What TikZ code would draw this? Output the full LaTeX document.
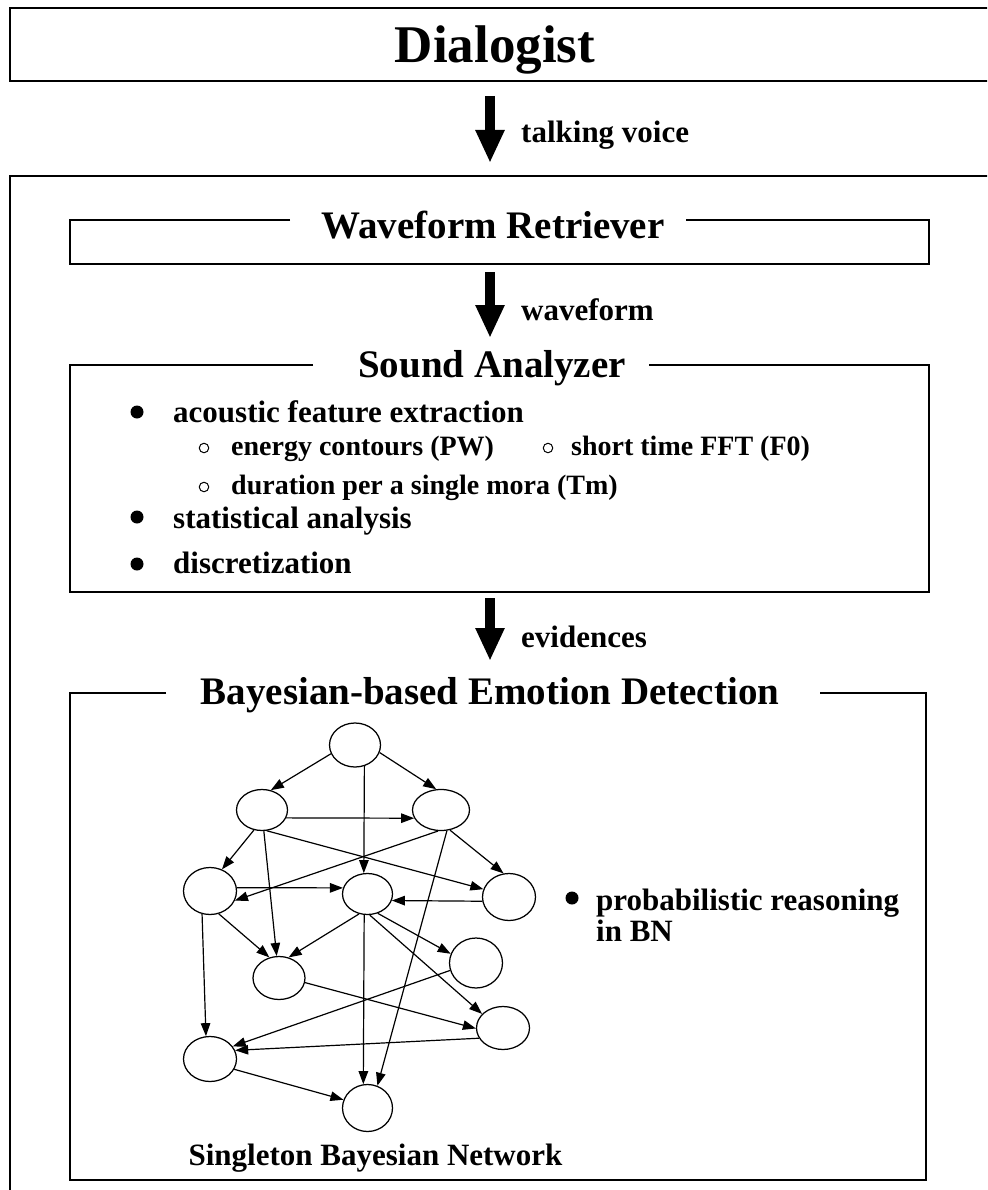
\documentclass[tikz,border=0pt]{standalone}
\usepackage{fontspec}
\setmainfont{Liberation Serif}
\usetikzlibrary{shapes.geometric,arrows.meta}

\begin{document}
\begin{tikzpicture}[x=1pt,y=-1pt,
  boxline/.style={line width=1.5pt},
  bigarrow/.style={line width=9.5pt,-{Triangle[length=33pt,width=27pt]}},
  headline/.style={font=\fontsize{53}{53}\selectfont\bfseries,inner sep=0pt,anchor=base},
  boxtitle/.style={font=\fontsize{39}{39}\selectfont\bfseries,inner sep=0pt,anchor=base},
  txt/.style={font=\fontsize{31}{31}\selectfont\bfseries,inner sep=0pt,anchor=base west},
  subtxt/.style={font=\fontsize{28}{28}\selectfont\bfseries,inner sep=0pt,anchor=base west},
  bul/.style={circle,fill=black,inner sep=0pt,minimum size=13pt},
  subbul/.style={circle,draw,line width=1pt,inner sep=0pt,minimum size=9.5pt},
  bn/.style={ellipse,draw,line width=1.25pt,inner sep=0pt},
  edge/.style={line width=1.2pt,-{Triangle[length=13pt,width=9.5pt]}}]

\useasboundingbox (0,0) rectangle (987,1190);
\clip (0,0) rectangle (987,1190);

% ---- Dialogist ----
\draw[boxline] (1000,8) -- (10,8) -- (10,81) -- (1000,81);
\node[headline] (dialogist) at (495,63) {Dialogist};

\coordinate (a1s) at (490,96);
\coordinate (a1e) at (490,163);
\draw[bigarrow] (a1s) -- (a1e);
\node[txt] (talk) at (521,143) {talking voice};

% ---- outer system frame ----
\draw[boxline] (1000,176) -- (10,176) -- (10,1200);

% ---- Waveform Retriever ----
\draw[boxline] (290,220) -- (70,220) -- (70,264) -- (929,264) -- (929,220) -- (686,220);
\node[boxtitle] (wr) at (493,238) {Waveform Retriever};

\coordinate (a2s) at (490,272);
\coordinate (a2e) at (490,338);
\draw[bigarrow] (a2s) -- (a2e);
\node[txt] (wave) at (521,320) {waveform};

% ---- Sound Analyzer ----
\draw[boxline] (313,365) -- (70,365) -- (70,592) -- (929,592) -- (929,365) -- (649,365);
\node[boxtitle] (sa) at (492,377) {Sound Analyzer};

\node[bul] (b1) at (137,412) {};
\node[txt] (t1) at (173,422) {acoustic feature extraction};
\node[subbul] (s1) at (204,448) {};
\node[subtxt] (u1) at (231,455) {energy contours (PW)};
\node[subbul] (s2) at (548,448) {};
\node[subtxt] (u2) at (571,455) {short time FFT (F0)};
\node[subbul] (s3) at (204,487) {};
\node[subtxt] (u3) at (231,494) {duration per a single mora (Tm)};
\node[bul] (b2) at (137,517) {};
\node[txt] (t2) at (173,528) {statistical analysis};
\node[bul] (b3) at (137,564) {};
\node[txt] (t3) at (173,573) {discretization};

\coordinate (a3s) at (490,598);
\coordinate (a3e) at (490,661);
\draw[bigarrow] (a3s) -- (a3e);
\node[txt] (evid) at (521,647) {evidences};

% ---- Bayesian-based Emotion Detection ----
\draw[boxline] (166,693) -- (70,693) -- (70,1180) -- (926,1180) -- (926,693) -- (820,693);
\node[boxtitle] (bed) at (490,704) {Bayesian-based Emotion Detection};

\node[bul] (b4) at (572,898) {};
\node[txt] (p1) at (596,910) {probabilistic reasoning};
\node[txt] (p2) at (596,941) {in BN};

\node[txt,anchor=base] (sbn) at (375.5,1165) {Singleton Bayesian Network};

% network nodes
\node[bn,minimum width=51pt,minimum height=44pt] (N1) at (355,745) {};
\node[bn,minimum width=51pt,minimum height=41pt] (N2) at (262,810) {};
\node[bn,minimum width=57pt,minimum height=41pt] (N3) at (441,810) {};
\node[bn,minimum width=53pt,minimum height=47pt] (N4) at (210,891) {};
\node[bn,minimum width=50pt,minimum height=41pt] (N5) at (367.5,894) {};
\node[bn,minimum width=53pt,minimum height=47pt] (N6) at (509,897) {};
\node[bn,minimum width=53pt,minimum height=50pt] (N7) at (476,963) {};
\node[bn,minimum width=52pt,minimum height=43pt] (N8) at (279,978) {};
\node[bn,minimum width=53pt,minimum height=43pt] (N9) at (503,1028) {};
\node[bn,minimum width=53pt,minimum height=45pt] (N10) at (210,1059) {};
\node[bn,minimum width=50pt,minimum height=47pt] (N11) at (367.5,1108) {};

% network arcs
\draw[edge] (N1.200) -- (N2.66);
\draw[edge] (N1.343) -- (N3.103);
\draw[edge] (N1.294) -- (N5.100);
\draw[edge] (N2.342) -- (N3.197);
\draw[edge] (N2.248) -- (N4.61);
\draw[edge] (N2.275) -- (N8.96);
\draw[edge] (N2.283) -- (N6.163);
\draw[edge] (N3.262) -- (N4.339);
\draw[edge] (N3.294) -- (N6.103);
\draw[edge] (N3.286) -- (N11.66);
\draw[edge] (N4.7) -- (N5.166);
\draw[edge] (N6.189) -- (N5.345);
\draw[edge] (N4.291) -- (N8.115);
\draw[edge] (N4.251) -- (N10.100);
\draw[edge] (N5.247) -- (N8.65);
\draw[edge] (N5.261) -- (N11.100);
\draw[edge] (N5.298) -- (N7.160);
\draw[edge] (N5.276) -- (N9.146);
\draw[edge] (N7.196) -- (N10.29);
\draw[edge] (N8.350) -- (N9.181);
\draw[edge] (N9.203) -- (N10.19);
\draw[edge] (N10.337) -- (N11.161);

\end{tikzpicture}
\end{document}
